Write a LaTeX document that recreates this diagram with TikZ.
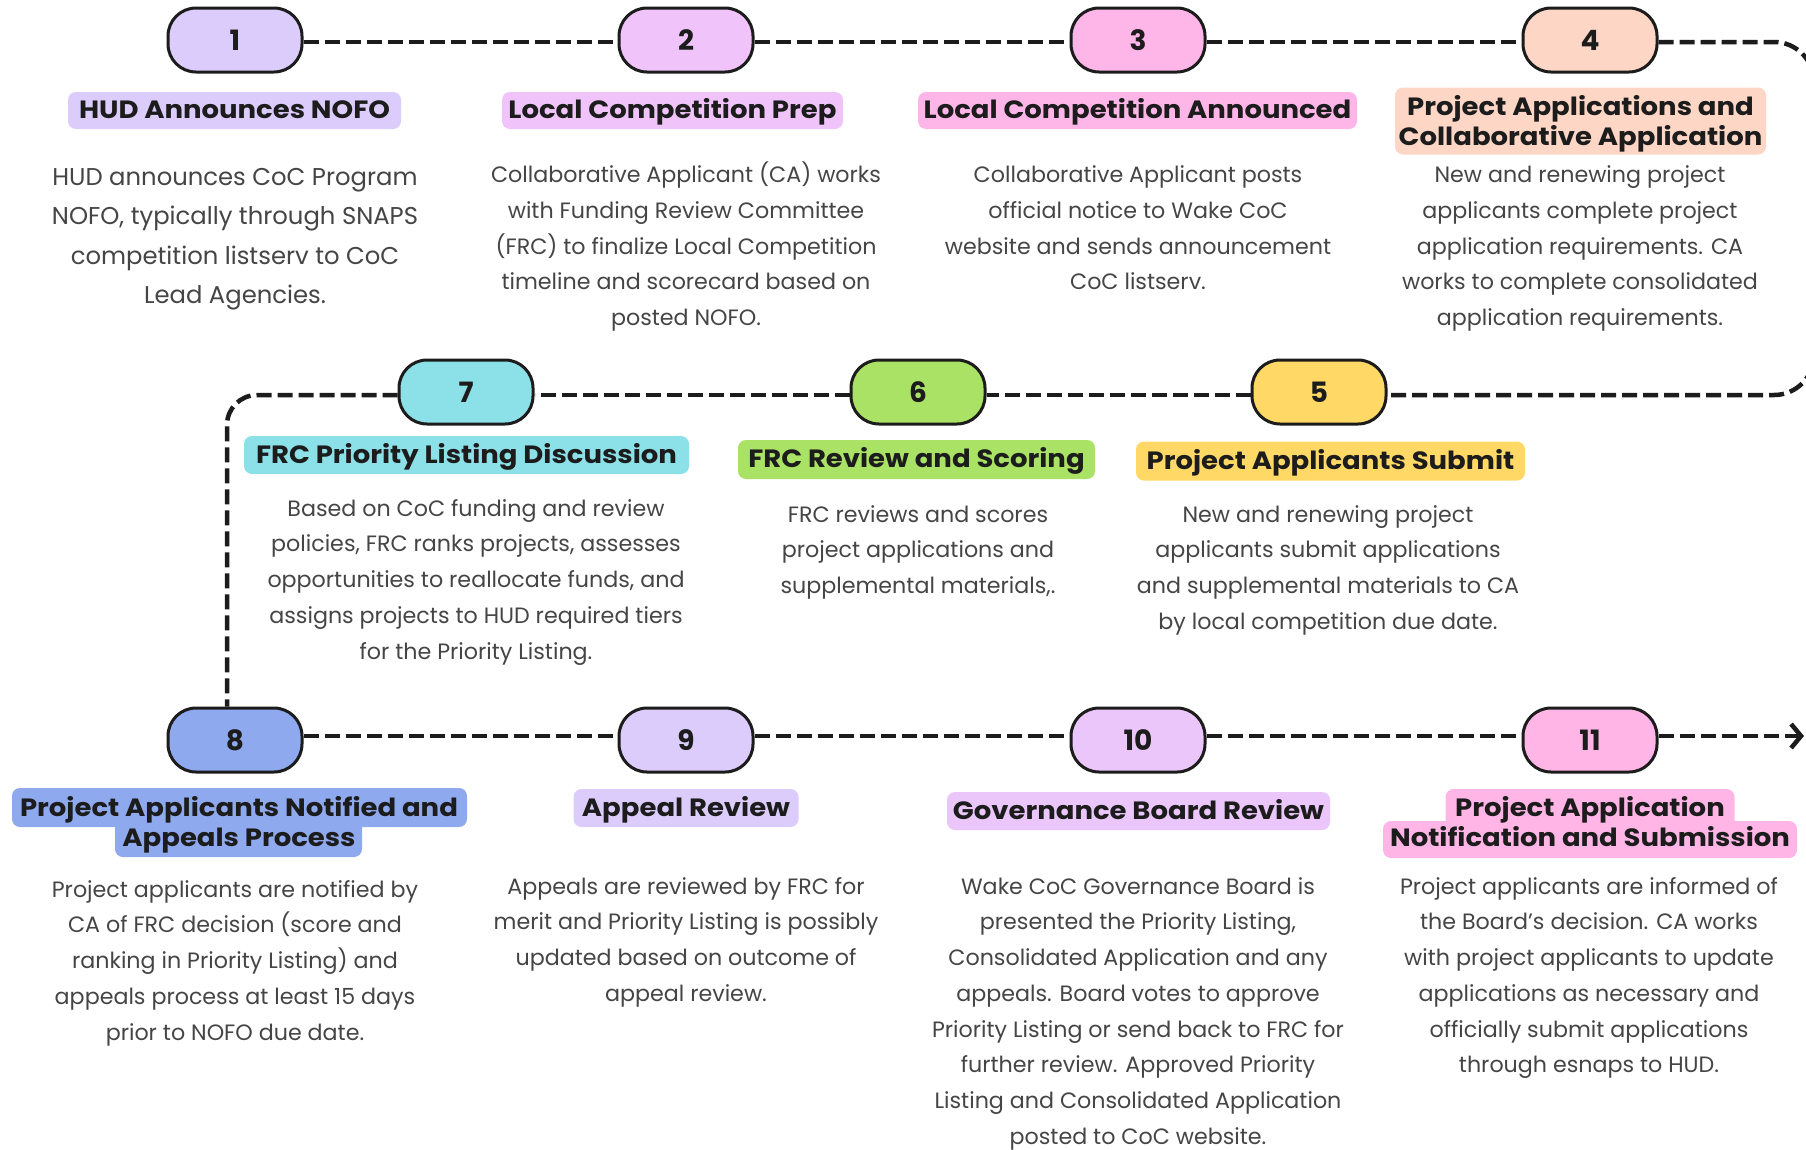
\documentclass[tikz,border=0pt]{standalone}
\usepackage{fontspec}
\setmainfont{Poppins}
\newfontfamily\lblfont[FakeStretch=1.1]{Poppins}
\newfontfamily\bodyfont{Poppins}
\usetikzlibrary{arrows.meta}
\definecolor{c1}{HTML}{DCCCFC}
\definecolor{c2}{HTML}{F0C4FA}
\definecolor{c3}{HTML}{FEB6E8}
\definecolor{c4}{HTML}{FDD6C5}
\definecolor{c5}{HTML}{FFD866}
\definecolor{c6}{HTML}{A9E264}
\definecolor{c7}{HTML}{8CE0E8}
\definecolor{c8}{HTML}{8FA9EF}
\definecolor{c9}{HTML}{DCCCFC}
\definecolor{c10}{HTML}{EBC6FA}
\definecolor{c11}{HTML}{FFB6E6}
\definecolor{ink}{HTML}{1C1C1C}
\definecolor{bodyc}{HTML}{454545}
\tikzset{
  pill/.style={draw=ink, line width=3pt, rounded corners=28pt, minimum width=134pt,
    minimum height=64pt, inner sep=0pt, text=ink, font=\bfseries\fontsize{28}{28}\selectfont},
  lbl/.style={rounded corners=8pt, inner sep=0pt, text=ink, align=center,
    font=\lblfont\bfseries\fontsize{25}{30}\selectfont},
  lbl1/.style={lbl, text height=20pt, text depth=4pt},
  lblbg/.style={rounded corners=8pt, inner sep=0pt},
  body/.style={inner sep=0pt, align=center, anchor=north, text=bodyc,
    font=\bodyfont\fontsize{22.2}{35.7}\selectfont},
  flow/.style={draw=ink, line width=4.5pt, dash pattern=on 15pt off 6pt}
}
\begin{document}
\begin{tikzpicture}[x=1pt,y=-1pt]
\useasboundingbox (0,0) rectangle (1806,1149);
\fill[white] (0,0) rectangle (1806,1149);
\clip (0,0) rectangle (1806,1149);

% pills
\node[pill, fill=c1] (p1) at (235,40) {1};
\node[pill, fill=c2] (p2) at (686,40) {2};
\node[pill, fill=c3] (p3) at (1138,40) {3};
\node[pill, fill=c4] (p4) at (1590,40) {4};
\node[pill, fill=c7] (p7) at (466,392) {7};
\node[pill, fill=c6] (p6) at (918,392) {6};
\node[pill, fill=c5] (p5) at (1319,392) {5};
\node[pill, fill=c8] (p8) at (235,740) {8};
\node[pill, fill=c9] (p9) at (686,740) {9};
\node[pill, fill=c10] (p10) at (1138,740) {10};
\node[pill, fill=c11] (p11) at (1590,740) {11};

% connectors
\coordinate (tr) at (1814,42);
\coordinate (br) at (1814,395);
\coordinate (lc) at (227,395);
\coordinate (endc) at (1804,736);
\begin{scope}[flow]
\draw ([yshift=-2pt]p1.east) -- ([yshift=-2pt]p2.west);
\draw ([yshift=-2pt]p2.east) -- ([yshift=-2pt]p3.west);
\draw ([yshift=-2pt]p3.east) -- ([yshift=-2pt]p4.west);
\draw[rounded corners=40pt] ([yshift=-2pt]p4.east) -- (tr) -- (br) -- ([yshift=-3pt]p5.east);
\draw ([yshift=-3pt]p5.west) -- ([yshift=-3pt]p6.east);
\draw ([yshift=-3pt]p6.west) -- ([yshift=-3pt]p7.east);
\draw[rounded corners=30pt] ([yshift=-3pt]p7.west) -- (lc) -- (lc |- p8.north);
\draw ([yshift=4pt]p8.east) -- ([yshift=4pt]p9.west);
\draw ([yshift=4pt]p9.east) -- ([yshift=4pt]p10.west);
\draw ([yshift=4pt]p10.east) -- ([yshift=4pt]p11.west);
\draw[-{Straight Barb[length=10pt,width=24pt]}] ([yshift=4pt]p11.east) -- (endc);
\end{scope}

% labels
\node[lbl1, fill=c1, minimum width=333pt, minimum height=37pt] (l1) at (234.5,110.5) {HUD Announces NOFO};
\node[lbl1, fill=c2, minimum width=341pt, minimum height=37pt] (l2) at (672.5,110.5) {Local Competition Prep};
\node[lbl1, fill=c3, minimum width=439pt, minimum height=37pt] (l3) at (1137.5,110.5) {Local Competition Announced};
\node[lblbg, fill=c4, minimum width=371pt, minimum height=67pt] (l4bg) at (1580.5,121) {};
\node[lbl] (l4) at (1580.5,124) {Project Applications and\\Collaborative Application};
\node[lbl1, fill=c7, minimum width=445pt, minimum height=38pt] (l7) at (466.5,455) {FRC Priority Listing Discussion};
\node[lbl1, fill=c6, minimum width=357pt, minimum height=39pt] (l6) at (916.5,459.5) {FRC Review and Scoring};
\node[lbl1, fill=c5, minimum width=389pt, minimum height=39pt] (l5) at (1330.5,461) {Project Applicants Submit};
\node[lblbg, fill=c8, minimum width=455pt, minimum height=39pt] (l8a) at (239.5,807.5) {};
\node[lblbg, fill=c8, minimum width=247pt, minimum height=42pt] (l8b) at (238.5,836) {};
\node[lbl] (l8) at (239,825) {Project Applicants Notified and\\Appeals Process};
\node[lbl1, fill=c9, minimum width=225pt, minimum height=38pt] (l9) at (686,808) {Appeal Review};
\node[lbl1, fill=c10, minimum width=383pt, minimum height=38pt] (l10) at (1138.5,811) {Governance Board Review};
\node[lblbg, fill=c11, minimum width=289pt, minimum height=41pt] (l11a) at (1590,809.5) {};
\node[lblbg, fill=c11, minimum width=414pt, minimum height=37pt] (l11b) at (1590,839.5) {};
\node[lbl] (l11) at (1590,822) {Project Application\\Notification and Submission};

% body texts
\node[body, font=\bodyfont\fontsize{24.3}{39.5}\selectfont] (b1) at (235,157.5) {\strut HUD announces CoC Program\\NOFO, typically through SNAPS\\competition listserv to CoC\\Lead Agencies.};
\node[body] (b2) at (686,157.5) {\strut Collaborative Applicant (CA) works\\with Funding Review Committee\\(FRC) to finalize Local Competition\\timeline and scorecard based on\\posted NOFO.};
\node[body] (b3) at (1138,157.5) {\strut Collaborative Applicant posts\\official notice to Wake CoC\\website and sends announcement\\CoC listserv.};
\node[body] (b4) at (1580,157.5) {\strut New and renewing project\\applicants complete project\\application requirements. CA\\works to complete consolidated\\application requirements.};
\node[body] (b7) at (476,491) {\strut Based on CoC funding and review\\policies, FRC ranks projects, assesses\\opportunities to reallocate funds, and\\assigns projects to HUD required tiers\\for the Priority Listing.};
\node[body] (b6) at (918,497) {\strut FRC reviews and scores\\project applications and\\supplemental materials,.};
\node[body] (b5) at (1328,497) {\strut New and renewing project\\applicants submit applications\\and supplemental materials to CA\\by local competition due date.};
\node[body] (b8) at (235,872) {\strut Project applicants are notified by\\CA of FRC decision (score and\\ranking in Priority Listing) and\\appeals process at least 15 days\\prior to NOFO due date.};
\node[body] (b9) at (686,869) {\strut Appeals are reviewed by FRC for\\merit and Priority Listing is possibly\\updated based on outcome of\\appeal review.};
\node[body] (b10) at (1138,869) {\strut Wake CoC Governance Board is\\presented the Priority Listing,\\Consolidated Application and any\\appeals. Board votes to approve\\Priority Listing or send back to FRC for\\further review. Approved Priority\\Listing and Consolidated Application\\posted to CoC website.};
\node[body] (b11) at (1589,869) {\strut Project applicants are informed of\\the Board’s decision. CA works\\with project applicants to update\\applications as necessary and\\officially submit applications\\through esnaps to HUD.};
\end{tikzpicture}
\end{document}
